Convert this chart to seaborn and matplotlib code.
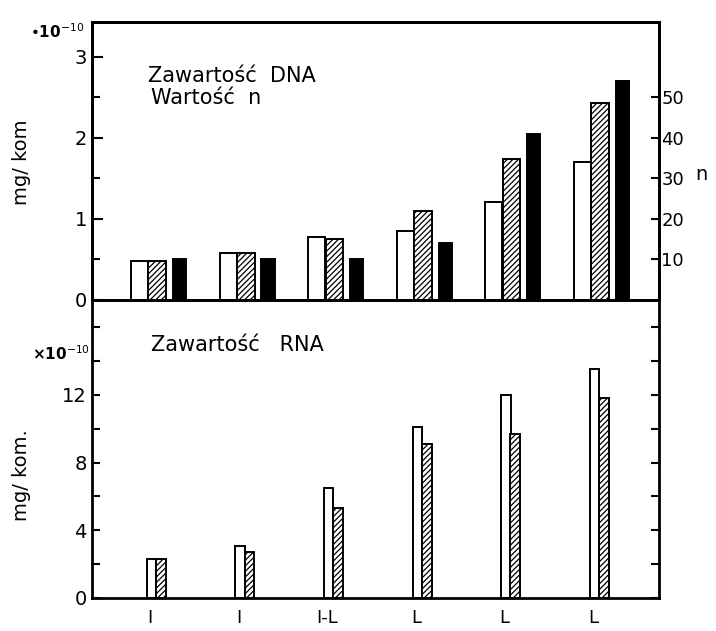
import numpy as np
import pandas as pd
import matplotlib
matplotlib.use("Agg")
import matplotlib.pyplot as plt
import seaborn as sns

# Data
groups = ["I", "I", "I-L", "L", "L", "L"]
dna_white = [0.48, 0.58, 0.78, 0.85, 1.21, 1.70]
dna_hatch = [0.48, 0.58, 0.75, 1.10, 1.74, 2.43]
n_values = [10, 10, 10, 14, 41, 54]
rna_white = [2.3, 3.1, 6.5, 10.1, 12.0, 13.5]
rna_hatch = [2.3, 2.7, 5.3, 9.1, 9.7, 11.8]

sns.set_style("ticks")
plt.rcParams["font.family"] = ["DejaVu Sans"]
plt.rcParams.update({"hatch.linewidth": 0.9, "text.color": "black",
                     "axes.labelcolor": "black", "axes.edgecolor": "black",
                     "xtick.color": "black", "ytick.color": "black"})

pos = np.arange(len(groups))
df = pd.DataFrame({"pos": pos, "dna_w": dna_white, "dna_h": dna_hatch,
                   "n": n_values, "rna_w": rna_white, "rna_h": rna_hatch})

fig = plt.figure(figsize=(7.16, 6.31), dpi=100)
ax1 = fig.add_axes([0.128, 0.5246, 0.792, 0.4404])
ax3 = fig.add_axes([0.128, 0.0523, 0.792, 0.4723])
ax2 = ax1.twinx()

bar_kw = dict(native_scale=True, saturation=1, edgecolor="black",
              linewidth=1.4, legend=False)

# top panel: DNA content (left axis) and n (right axis)
sns.barplot(data=df.assign(x=df.pos - 0.22), x="x", y="dna_w", ax=ax1,
            color="white", width=0.19, **bar_kw)
sns.barplot(data=df.assign(x=df.pos - 0.02), x="x", y="dna_h", ax=ax1,
            color="white", width=0.20, hatch="//////", **bar_kw)
sns.barplot(data=df.assign(x=df.pos + 0.23), x="x", y="n", ax=ax2,
            color="black", width=0.15, **bar_kw)

# bottom panel: RNA content
sns.barplot(data=df.assign(x=df.pos - 0.085), x="x", y="rna_w", ax=ax3,
            color="white", width=0.105, **bar_kw)
sns.barplot(data=df.assign(x=df.pos + 0.022), x="x", y="rna_h", ax=ax3,
            color="white", width=0.11, hatch="//////", **bar_kw)

for ax in (ax1, ax2, ax3):
    ax.set_xlim(-0.76, 5.64)
    ax.set_xlabel("")
    for s in ax.spines.values():
        s.set_linewidth(2)
        s.set_visible(True)

ax1.set_ylim(0, 3.43)
ax2.set_ylim(0, 68.6)
ax3.set_ylim(0, 17.6)

ax1.set_xticks([])
ax2.set_xticks([])
ax3.set_xticks(pos - 0.1)
ax3.set_xticklabels(groups, fontsize=13)
ax3.tick_params(axis="x", length=0, pad=8)

ax1.set_yticks([0, 1, 2, 3])
ax1.set_yticks(np.arange(0.5, 3.5, 1.0), minor=True)
ax1.tick_params(axis="y", which="both", direction="in", length=6, width=1.5,
                labelsize=14)
ax1.tick_params(axis="y", which="major", length=8)

ax2.set_yticks([10, 20, 30, 40, 50])
ax2.tick_params(axis="y", direction="in", length=6, width=1.5, labelsize=13,
                pad=2)
ax2.set_ylabel("n", rotation=0, fontsize=14, va="center", ha="center")
ax2.yaxis.set_label_coords(1.075, 31 / 68.6)

ax3.set_yticks([0, 4, 8, 12])
ax3.set_yticks(np.arange(2, 18, 2), minor=True)
ax3.tick_params(axis="y", which="both", direction="in", length=6, width=1.5,
                labelsize=14, right=True)

ax1.set_ylabel("mg/ kom", fontsize=14, va="center")
ax1.yaxis.set_label_coords(-0.123, 0.496)
ax3.set_ylabel("mg/ kom.", fontsize=14, va="center")
ax3.yaxis.set_label_coords(-0.123, 0.413)

fig.text(0.042, 0.94, "•10$^{-10}$", fontsize=11, fontweight="bold")
fig.text(0.045, 0.43, "×10$^{-10}$", fontsize=11, fontweight="bold")

ax1.text(0.10, 0.785, "Zawartość  DNA", transform=ax1.transAxes, fontsize=15)
ax1.text(0.105, 0.705, "Wartość  n", transform=ax1.transAxes, fontsize=15)
ax3.text(0.105, 0.83, "Zawartość   RNA", transform=ax3.transAxes, fontsize=15)

fig.savefig("out.png", dpi=100)
